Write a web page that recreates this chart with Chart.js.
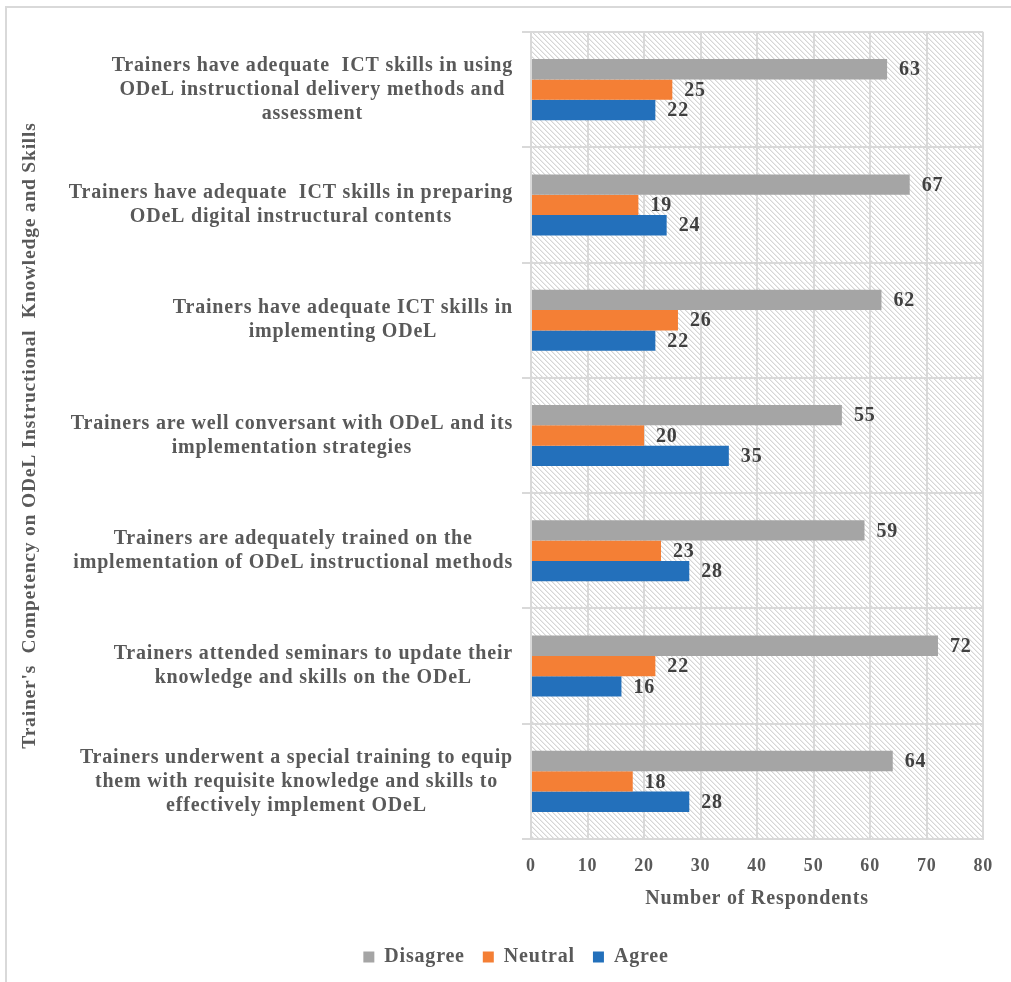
<!DOCTYPE html>
<html>
<head>
<meta charset="utf-8">
<script src="https://cdn.jsdelivr.net/npm/chart.js@4"></script>
<style>
  body { margin: 0; background: #fff; }
  #frame { position: absolute; left: 5px; top: 6px; width: 1011px; height: 982px;
           border-left: 2px solid #d9d9d9; border-top: 2px solid #d9d9d9; }
  #wrap { position: absolute; left: 0; top: 0; width: 1011px; height: 982px; }
</style>
</head>
<body>
<div id="frame"></div>
<div id="wrap"><canvas id="grafico"></canvas></div>
<script>
// categories, top to bottom
const categorias = [
  ['Trainers have adequate  ICT skills in using', 'ODeL instructional delivery methods and', 'assessment'],
  ['Trainers have adequate  ICT skills in preparing', 'ODeL digital instructural contents'],
  ['Trainers have adequate ICT skills in', 'implementing ODeL'],
  ['Trainers are well conversant with ODeL and its', 'implementation strategies'],
  ['Trainers are adequately trained on the', 'implementation of ODeL instructional methods'],
  ['Trainers attended seminars to update their', 'knowledge and skills on the ODeL'],
  ['Trainers underwent a special training to equip', 'them with requisite knowledge and skills to', 'effectively implement ODeL']
];

const discordo = [63, 67, 62, 55, 59, 72, 64];
const neutro = [25, 19, 26, 20, 23, 22, 18];
const concordo = [22, 24, 22, 35, 28, 16, 28];

const ticksX = [0, 10, 20, 30, 40, 50, 60, 70, 80];

const fonte = 'Liberation Serif, Times New Roman, serif';
const espacamento = '0.8px';
const fonteCategoria = 'bold 20px ' + fonte;
const cinzaTexto = '#595959';
const corGrade = '#d9d9d9';

// widest line of each category, only used so the axis reserves the right width
const medidor = document.createElement('canvas').getContext('2d');
medidor.font = fonteCategoria;
medidor.letterSpacing = espacamento;
function linhaMaisLarga(linhas) {
  return linhas.reduce((a, b) => medidor.measureText(b).width > medidor.measureText(a).width ? b : a);
}

// diagonal hatch used as the plot background
function criarHachura() {
  const c = document.createElement('canvas');
  c.width = 5; c.height = 5;
  const g = c.getContext('2d');
  g.fillStyle = '#fff';
  g.fillRect(0, 0, 5, 5);
  for (let i = 0; i < 5; i++) {
    g.fillStyle = '#d6d6d6';
    g.fillRect(i, i, 1, 1);
    g.fillStyle = '#ececec';
    g.fillRect((i + 1) % 5, i, 1, 1);
  }
  return c;
}

// the canvas state is reset on resize, so the letter spacing is set again before each pass
const espacoLetras = {
  id: 'espacoLetras',
  beforeUpdate(chart) { chart.ctx.letterSpacing = espacamento; },
  beforeLayout(chart) { chart.ctx.letterSpacing = espacamento; },
  beforeDraw(chart) { chart.ctx.letterSpacing = espacamento; }
};

// legend sits a bit right of the canvas centre, under the middle of the whole figure
const legendaDeslocada = {
  id: 'legendaDeslocada',
  afterLayout(chart) {
    chart.legend.left += 15;
    chart.legend.right += 15;
  }
};

const fundoHachurado = {
  id: 'fundoHachurado',
  beforeDraw(chart) {
    const { ctx, chartArea: a } = chart;
    ctx.save();
    ctx.fillStyle = ctx.createPattern(criarHachura(), 'repeat');
    ctx.fillRect(a.left, a.top, a.right - a.left, a.bottom - a.top);
    ctx.restore();
  }
};

// category labels: each block right-aligned, its lines centred inside the block
const rotulosCategorias = {
  id: 'rotulosCategorias',
  afterDraw(chart) {
    const { ctx } = chart;
    const eixo = chart.scales.y;
    const alturaLinha = 24;
    ctx.save();
    ctx.letterSpacing = espacamento;
    ctx.font = fonteCategoria;
    ctx.fillStyle = cinzaTexto;
    ctx.textAlign = 'center';
    ctx.textBaseline = 'middle';
    categorias.forEach((linhas, i) => {
      const largura = Math.max(...linhas.map(l => ctx.measureText(l).width));
      const cx = eixo.right - 18 - largura / 2;
      const cy = eixo.getPixelForTick(i);
      const y0 = cy - (linhas.length - 1) * alturaLinha / 2;
      linhas.forEach((l, k) => ctx.fillText(l, cx, y0 + k * alturaLinha));
    });
    ctx.restore();
  }
};

// value written after the end of each bar
const rotulosValores = {
  id: 'rotulosValores',
  afterDatasetsDraw(chart) {
    const { ctx } = chart;
    ctx.save();
    ctx.letterSpacing = espacamento;
    ctx.font = 'bold 20px ' + fonte;
    ctx.fillStyle = '#404040';
    ctx.textAlign = 'left';
    ctx.textBaseline = 'middle';
    chart.data.datasets.forEach((ds, d) => {
      chart.getDatasetMeta(d).data.forEach((barra, i) => {
        ctx.fillText(ds.data[i], barra.x + 12, barra.y + 1);
      });
    });
    ctx.restore();
  }
};

new Chart(document.getElementById('grafico'), {
  type: 'bar',
  data: {
    labels: categorias,
    datasets: [
      { label: 'Disagree', data: discordo, backgroundColor: '#a5a5a5' },
      { label: 'Neutral', data: neutro, backgroundColor: '#f47f35' },
      { label: 'Agree', data: concordo, backgroundColor: '#2370bb' }
    ]
  },
  options: {
    indexAxis: 'y',
    responsive: true,
    maintainAspectRatio: false,
    animation: false,
    datasets: { bar: { categoryPercentage: 0.53, barPercentage: 1.0 } },
    layout: { padding: { top: 32, right: 27, bottom: 5, left: 18 } },
    scales: {
      x: {
        min: 0,
        max: 80,
        afterBuildTicks: (s) => { s.ticks = ticksX.map(v => ({ value: v })); },
        grid: { color: corGrade, lineWidth: 2, drawTicks: false },
        border: { color: corGrade, width: 2 },
        ticks: { color: cinzaTexto, font: { family: fonte, size: 18, weight: 'bold', lineHeight: 1 }, padding: 18 },
        title: {
          display: true, text: 'Number of Respondents', color: cinzaTexto,
          font: { family: fonte, size: 20, weight: 'bold', lineHeight: 1 }, padding: { top: -4, bottom: 20 }
        }
      },
      y: {
        offset: true,
        // the label column is wider than half the canvas, so its width is fixed here
        afterFit: (s) => { s.width = 513; },
        grid: { offset: true, color: corGrade, lineWidth: 2, tickLength: 9 },
        border: { color: corGrade, width: 2 },
        ticks: {
          color: 'transparent', padding: 9,
          font: { family: fonte, size: 20, weight: 'bold', lineHeight: 1 },
          callback: (v, i) => linhaMaisLarga(categorias[i])
        },
        title: {
          display: true, text: "Trainer's  Competency on ODeL Instructional  Knowledge and Skills",
          color: cinzaTexto, font: { family: fonte, size: 19.5, weight: 'bold' }, padding: { top: 0, bottom: 28 }
        }
      }
    },
    plugins: {
      legend: {
        position: 'bottom',
        labels: {
          boxWidth: 11, boxHeight: 11, padding: 18, color: cinzaTexto,
          font: { family: fonte, size: 20, weight: 'bold' }
        }
      },
      tooltip: { enabled: false }
    }
  },
  plugins: [espacoLetras, legendaDeslocada, fundoHachurado, rotulosCategorias, rotulosValores]
});
</script>
</body>
</html>
